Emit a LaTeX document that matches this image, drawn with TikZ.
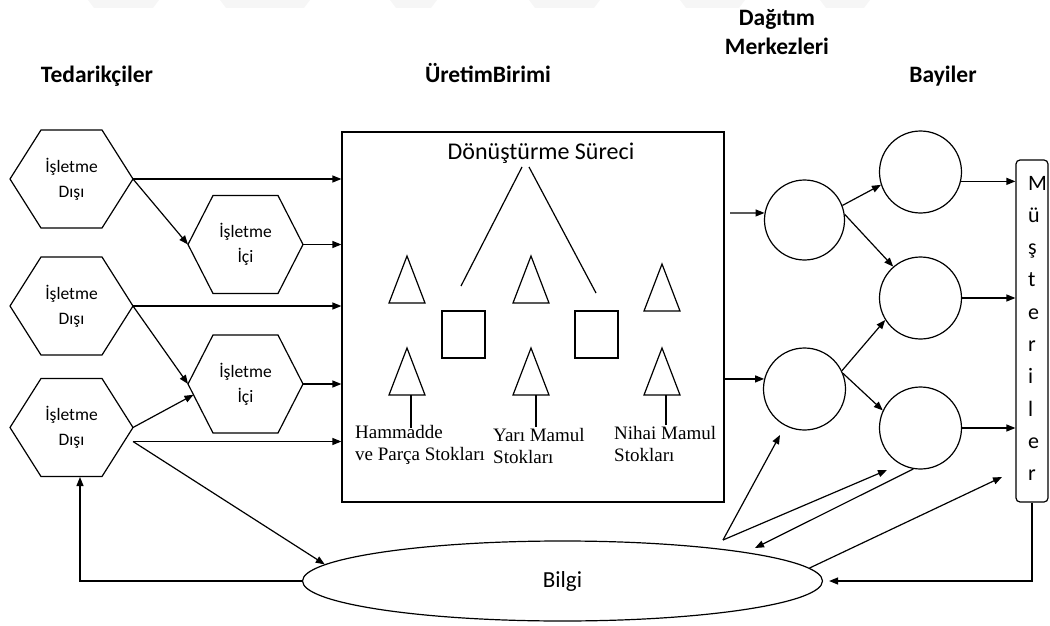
\documentclass[tikz,border=0pt]{standalone}
\usepackage{fontspec}
\setmainfont{Liberation Serif}
\newfontfamily\calfont{Carlito}
\usetikzlibrary{arrows.meta,shapes.geometric,calc}

% hexagon with a centred label and named corner coordinates
% #1 name, #2 x, #3 y, #4 half width, #5 inset of the flat edges, #6 text
\newcommand\hexnode[6]{%
  \node[hexlabel] (#1) at (#2,#3) {#6};
  \coordinate (#1-W)  at ({#2-#4},#3);
  \coordinate (#1-E)  at ({#2+#4},#3);
  \coordinate (#1-NW) at ({#2-#4+#5},{#3-49});
  \coordinate (#1-NE) at ({#2+#4-#5},{#3-49});
  \coordinate (#1-SW) at ({#2-#4+#5},{#3+49});
  \coordinate (#1-SE) at ({#2+#4-#5},{#3+49});
  \draw[ln] (#1-W) -- (#1-NW) -- (#1-NE) -- (#1-E) -- (#1-SE) -- (#1-SW) -- cycle;
}

\begin{document}
\begin{tikzpicture}[x=1pt,y=-1pt,
  ln/.style={line width=1.2pt},
  arr/.style={ln,-{Triangle[length=9pt,width=7pt]}},
  hexlabel/.style={font=\calfont\fontsize{17.5}{25}\selectfont,align=center,inner sep=0pt},
  head/.style={font=\calfont\bfseries\fontsize{23.5}{29}\selectfont,align=center,inner sep=0pt},
  circ/.style={draw,ln,circle,minimum size=80pt,inner sep=0pt},
  serif/.style={font=\fontsize{19}{21.5}\selectfont,align=left,inner sep=0pt,anchor=west},
  letter/.style={font=\calfont\fontsize{22}{26}\selectfont,anchor=base west,inner sep=0pt}]

\useasboundingbox (0,0) rectangle (1050,626);

% faint band along the top edge
\foreach \a/\b in {88/159,220/310,390/437,529/600,680/745,820/870}
  \fill[gray!7] (\a,0) -- (\b,0) -- (\b-6,8) -- (\a+6,8) -- cycle;

% column headings
\node[head,anchor=base] (tedarik) at (97,83) {Tedarikçiler};
\node[head,anchor=base] (uretim) at (488,83) {ÜretimBirimi};
\node[head] (dagitim) at (777,32.5) {Dağıtım\\Merkezleri};
\node[head,anchor=base] (bayi) at (943,83) {Bayiler};

% suppliers
\hexnode{h1}{71.5}{179}{61.5}{31}{İşletme\\Dışı}
\hexnode{h2}{245.5}{244.5}{57.5}{25}{İşletme\\İçi}
\hexnode{h3}{71.5}{306}{61.5}{31}{İşletme\\Dışı}
\hexnode{h4}{245.5}{384}{57.5}{25}{İşletme\\İçi}
\hexnode{h5}{71.5}{427.5}{61.5}{31}{İşletme\\Dışı}

% production unit
\node[draw,ln,minimum width=382pt,minimum height=370pt,inner sep=0pt] (box) at (533,317) {};
\node[font=\calfont\fontsize{24}{28}\selectfont,inner sep=0pt] (proc) at (541,153) {Dönüştürme Süreci};
\draw[ln] (522,167) -- (461,286);
\draw[ln] (529,167) -- (596,293);
\foreach \tx/\ty in {407/256,531/256,662/264,407/348,531/348,662/348}
  \draw[ln] (\tx,\ty) -- (\tx+18,\ty+47) -- (\tx-18,\ty+47) -- cycle;
\draw[ln] (442,311) rectangle (485,358);
\draw[ln] (575,311) rectangle (618,358);
\draw[ln] (411,395) -- (411,428);
\draw[ln] (536,395) -- (536,427);
\draw[ln] (666,395) -- (666,425);
\node[serif] (ham) at (355,445) {Hammadde\\ve Parça Stokları};
\node[serif] (yari) at (493,446) {Yarı Mamul\\Stokları};
\node[serif] (nihai) at (614,444) {Nihai Mamul\\Stokları};

% information
\node[ellipse,draw,ln,minimum width=520pt,minimum height=80pt,inner sep=0pt,
      font=\calfont\fontsize{23}{28}\selectfont] (bilgi) at (562.5,581) {Bilgi};

% supplier flows
\draw[arr] (h1-E) -- (h1-E -| box.west);
\draw[arr] (h1-E) -- (h2-W);
\draw[arr] (h2-E) -- (h2-E -| box.west);
\draw[arr] (h3-E) -- (h3-E -| box.west);
\draw[arr] (h3-E) -- (h4-W);
\draw[arr] (h4-E) -- (h4-E -| box.west);
\coordinate (h5out) at ($(h5-E)+(0,14)$);
\draw[arr] (h5-E) -- ($(h4-W)!0.22!(h4-SW)$);
\draw[arr] (h5out) -- (h5out -| box.west);
\draw[arr] (h5out) -- (bilgi.176);
\coordinate (h5b) at (80,477);
\draw[arr] (bilgi.west) -| (h5b);

% distribution centres and dealers
\node[circ] (dc1) at (804.5,220) {};
\node[circ,minimum size=82pt] (dc2) at (804.5,389) {};
\node[circ,minimum size=82pt] (b1) at (920.5,172) {};
\node[circ,minimum size=82pt] (b2) at (920.5,298) {};
\node[circ,minimum size=82pt] (b3) at (920.5,428) {};

% customers
\node[draw,ln,rounded corners=4pt,minimum width=32pt,minimum height=342pt,inner sep=0pt] (mus) at (1032,331) {};
\foreach \ch [count=\i from 0] in {M,ü,ş,t,e,r,i,l,e,r}
  \node[letter] (m\i) at (1028,{190+\i*32.3}) {\ch};

\coordinate (dcin) at (730,213);
\draw[arr] (dcin) -- (dc1.170);
\draw[arr] (box.east |- dc2.166) -- (dc2.166);
\draw[arr] (dc1.21) -- (b1.198);
\draw[arr] (dc1.8) -- (b2.131);
\draw[arr] (dc2.26) -- (b2.212);
\draw[arr] (dc2.22) -- (b3.155);
\draw[arr] (b1.347) -- (b1.347 -| mus.west);
\draw[arr] (b2.east) -- (b2.east -| mus.west);
\draw[arr] (b3.east) -- (b3.east -| mus.west);

% information feedback
\coordinate (fork) at (723,540);
\coordinate (tipdc) at (780,435);
\coordinate (tipb3) at (887,470);
\coordinate (tipbil) at (755,548);
\coordinate (tipmus) at (1002,477);
\draw[arr] (fork) -- (tipdc);
\draw[arr] (fork) -- (tipb3);
\draw[arr] (b3.260) -- (tipbil);
\draw[arr] (bilgi.3) -- (tipmus);
\draw[arr,shorten >=6pt] (mus.south) |- (bilgi.east);
\end{tikzpicture}
\end{document}
